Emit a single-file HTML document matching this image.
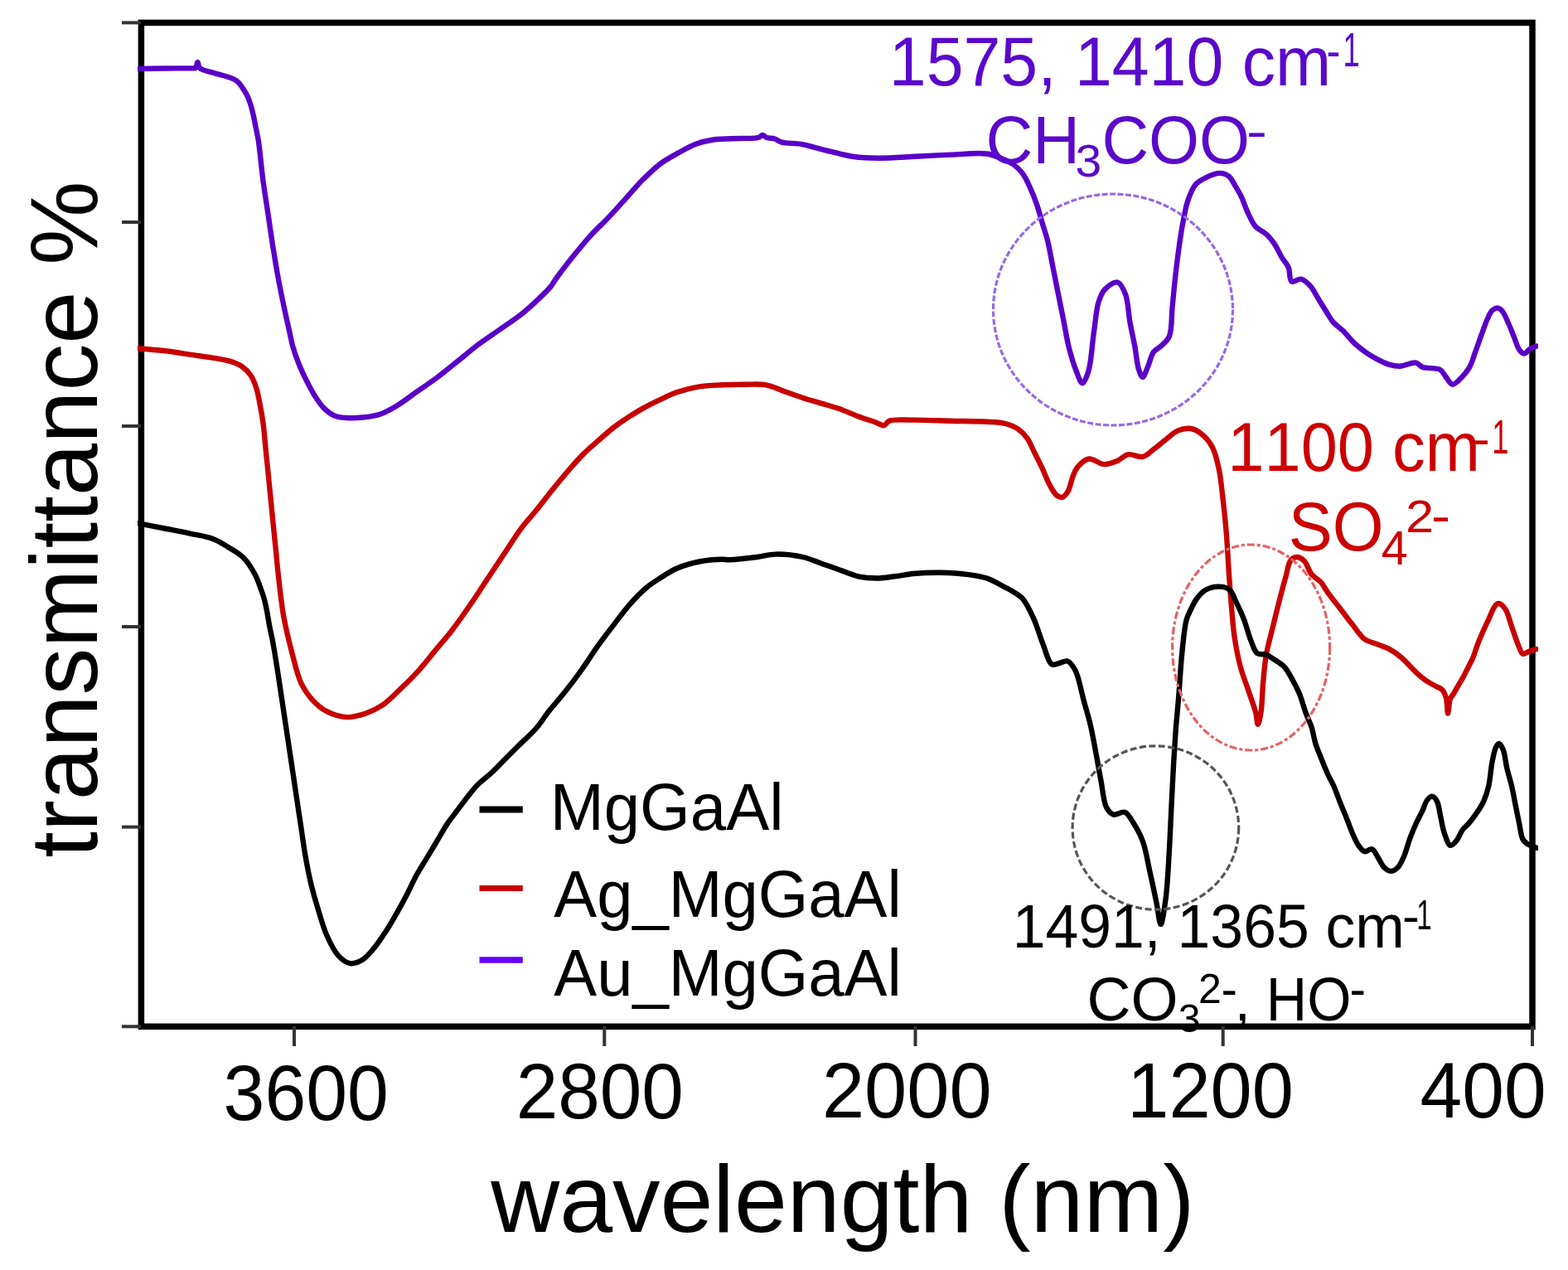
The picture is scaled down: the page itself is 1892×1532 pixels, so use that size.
<!DOCTYPE html>
<html><head><meta charset="utf-8"><title>FTIR spectra</title>
<style>html,body{margin:0;padding:0;background:#fff;overflow:hidden}svg{display:block}text{font-kerning:none}</style>
</head><body>
<svg width="1892" height="1532" viewBox="0 0 1892 1532">
<rect width="1892" height="1532" fill="#fff"/>
<defs><clipPath id="pc"><rect x="166" y="20" width="1690" height="1226"/></clipPath></defs>
<rect x="170.4" y="27.4" width="1678.6" height="1210.9" fill="none" stroke="#000" stroke-width="7.5"/>
<g stroke="#333" stroke-width="4">
<line x1="147" y1="27.4" x2="170" y2="27.4"/>
<line x1="147" y1="268" x2="170" y2="268"/>
<line x1="147" y1="514" x2="170" y2="514"/>
<line x1="147" y1="756" x2="170" y2="756"/>
<line x1="147" y1="997.6" x2="170" y2="997.6"/>
<line x1="147" y1="1238.3" x2="170" y2="1238.3"/>
<line x1="355" y1="1238" x2="355" y2="1262"/>
<line x1="729.3" y1="1238" x2="729.3" y2="1262"/>
<line x1="1104.5" y1="1238" x2="1104.5" y2="1262"/>
<line x1="1475.7" y1="1238" x2="1475.7" y2="1262"/>
<line x1="1849" y1="1238" x2="1849" y2="1262"/>
</g>
<g clip-path="url(#pc)" fill="none" stroke-width="6.4" stroke-linejoin="round" stroke-linecap="round">
<path d="M167.0,83.0 C178.3,82.8 189.8,82.6 201.0,82.5 C211.9,82.4 228.6,82.4 233.4,82.2 C234.8,82.1 235.3,82.6 236.0,82.0 C237.2,81.1 237.7,75.0 238.5,75.0 C239.3,75.0 239.1,80.1 241.0,82.0 C244.0,85.0 252.2,86.2 258.0,88.0 C263.8,89.8 270.7,91.1 275.7,93.0 C279.6,94.4 282.9,95.5 285.8,97.7 C288.7,99.9 290.8,103.3 292.9,106.3 C295.0,109.3 296.8,112.4 298.4,115.7 C300.0,119.0 301.2,122.4 302.3,125.9 C303.5,129.6 304.4,133.4 305.4,137.6 C306.5,142.4 307.5,148.1 308.6,153.3 C309.6,158.5 310.6,162.3 311.7,169.0 C313.6,181.0 315.5,203.4 317.6,219.1 C319.5,233.0 321.5,245.2 323.5,258.3 C325.4,271.3 327.2,284.4 329.3,297.4 C331.4,310.4 333.4,323.2 335.9,336.5 C338.5,350.5 342.2,368.0 344.7,379.6 C346.4,387.4 347.6,392.7 349.1,399.2 C350.6,405.7 351.7,412.2 353.5,418.7 C355.4,425.3 357.7,431.8 360.3,438.3 C362.9,444.9 366.0,451.4 369.2,457.9 C372.5,464.5 376.1,471.6 379.9,477.5 C383.3,482.9 386.5,488.0 390.7,492.1 C394.7,496.1 399.6,499.9 404.4,501.9 C408.8,503.7 413.1,503.7 418.1,504.0 C424.0,504.4 431.1,504.2 437.7,503.5 C444.6,502.8 451.8,501.9 458.5,499.7 C465.4,497.4 471.6,493.8 478.4,489.7 C486.4,484.9 494.9,478.2 503.2,472.4 C511.5,466.6 519.8,461.1 528.0,455.0 C536.4,448.7 544.5,441.8 552.8,435.2 C561.1,428.6 569.2,421.6 577.6,415.3 C585.8,409.2 594.1,403.8 602.4,398.0 C610.7,392.2 619.5,386.6 627.2,380.6 C634.3,375.0 640.7,369.2 647.0,363.3 C653.1,357.6 660.2,351.0 664.4,345.9 C667.2,342.5 667.8,340.5 670.6,336.6 C675.5,329.8 684.6,318.0 691.7,309.1 C698.7,300.4 705.7,291.7 712.9,283.8 C719.8,276.3 727.0,269.9 734.0,262.6 C741.1,255.1 748.1,247.1 755.1,239.4 C762.2,231.6 769.1,223.3 776.3,216.1 C783.2,209.3 790.1,202.5 797.4,197.1 C804.2,192.1 811.5,188.3 818.6,184.4 C825.6,180.6 832.5,176.5 839.7,173.8 C846.6,171.2 853.0,169.7 860.8,168.5 C870.3,167.1 882.9,167.4 892.6,167.0 C900.7,166.6 910.3,167.4 915.0,166.0 C917.4,165.3 918.3,163.0 920.0,163.0 C921.7,163.0 923.0,165.3 925.0,166.0 C927.6,167.0 931.7,166.5 934.8,167.5 C937.8,168.4 939.6,170.7 943.3,171.7 C949.0,173.3 959.1,172.5 966.6,173.8 C973.9,175.0 980.7,177.3 987.7,179.1 C994.7,180.9 1001.7,182.7 1008.8,184.4 C1015.8,186.0 1022.3,187.9 1030.0,189.0 C1039.1,190.2 1049.0,190.6 1060.0,190.7 C1073.4,190.8 1089.9,189.5 1104.6,188.8 C1119.1,188.1 1133.3,187.2 1147.7,186.6 C1162.1,186.1 1179.8,183.9 1190.8,185.5 C1197.9,186.5 1202.5,188.8 1208.0,191.0 C1213.3,193.1 1218.6,195.4 1223.0,198.5 C1227.2,201.5 1230.7,205.0 1233.8,209.2 C1237.3,213.8 1239.8,219.5 1242.5,225.4 C1245.6,232.0 1248.6,239.7 1251.1,246.9 C1253.6,254.0 1255.3,261.3 1257.5,268.5 C1259.6,275.7 1262.0,282.1 1264.0,290.0 C1266.4,299.6 1268.3,311.5 1270.5,322.3 C1272.6,333.1 1274.8,343.8 1276.9,354.6 C1279.1,365.4 1281.2,376.1 1283.4,386.9 C1285.5,397.7 1287.2,408.9 1289.8,419.2 C1292.3,428.9 1295.4,439.4 1298.5,447.2 C1300.9,453.1 1303.5,462.3 1306.0,462.3 C1308.5,462.3 1311.5,453.8 1313.5,447.2 C1316.9,436.0 1317.8,414.6 1320.0,400.0 C1321.9,387.2 1322.7,373.3 1325.7,364.1 C1327.7,357.8 1329.5,352.9 1333.2,349.0 C1337.0,345.0 1344.3,339.5 1348.4,340.5 C1352.5,341.5 1355.5,348.6 1357.9,354.7 C1361.3,363.3 1361.5,378.0 1363.5,388.8 C1365.3,398.7 1367.4,407.6 1369.2,417.1 C1370.9,426.5 1371.8,438.7 1374.0,445.5 C1375.3,449.6 1377.0,455.0 1378.7,455.0 C1380.7,455.0 1383.2,446.5 1385.3,441.7 C1387.6,436.4 1388.8,429.0 1391.9,424.7 C1394.5,421.2 1398.4,420.1 1401.4,417.1 C1404.7,413.8 1408.7,411.1 1410.9,405.8 C1414.4,397.5 1413.4,381.9 1414.6,369.8 C1415.9,357.4 1417.0,344.6 1418.4,332.0 C1419.8,319.4 1421.5,305.8 1423.2,294.1 C1424.7,283.9 1426.1,274.8 1427.9,265.7 C1429.6,257.2 1430.9,248.6 1433.6,241.1 C1436.1,234.2 1438.8,226.9 1443.0,222.2 C1446.6,218.2 1451.6,215.9 1456.3,213.7 C1461.0,211.5 1466.7,208.9 1471.4,208.9 C1475.5,208.9 1479.7,210.3 1482.8,212.7 C1486.1,215.2 1487.9,220.1 1490.4,224.1 C1493.0,228.3 1495.5,232.4 1497.9,237.3 C1500.6,243.0 1502.6,250.1 1505.5,256.2 C1508.3,262.1 1511.0,268.8 1515.0,273.3 C1518.7,277.4 1524.4,279.1 1528.2,282.7 C1531.9,286.1 1534.7,289.8 1537.7,294.1 C1541.1,299.1 1544.0,306.1 1547.1,311.1 C1549.7,315.3 1552.8,318.1 1554.7,322.5 C1556.8,327.4 1555.4,337.6 1558.5,339.5 C1561.1,341.1 1566.3,336.0 1569.9,336.7 C1573.9,337.5 1577.9,341.6 1581.2,345.2 C1584.9,349.3 1587.5,355.3 1590.7,360.4 C1593.8,365.4 1597.1,370.7 1600.1,375.5 C1602.9,379.9 1604.9,384.2 1608.2,388.1 C1611.7,392.2 1616.5,395.0 1620.6,399.1 C1625.2,403.6 1629.6,409.7 1634.4,414.2 C1638.8,418.3 1643.4,421.9 1648.1,425.2 C1652.6,428.3 1657.2,431.0 1661.8,433.4 C1666.3,435.8 1670.9,438.2 1675.6,439.6 C1680.1,440.9 1684.4,441.8 1689.3,441.7 C1695.2,441.5 1703.7,436.6 1708.6,437.6 C1712.1,438.3 1713.3,441.8 1716.8,443.1 C1721.9,445.0 1732.7,443.2 1737.4,445.8 C1740.8,447.7 1741.9,451.2 1744.3,454.1 C1746.9,457.2 1749.5,463.3 1752.5,463.7 C1755.4,464.1 1759.1,459.8 1762.2,456.8 C1766.0,453.2 1770.2,448.2 1773.1,443.1 C1776.2,437.7 1777.6,431.6 1780.0,425.2 C1782.7,417.9 1785.6,409.1 1788.3,401.8 C1790.6,395.4 1792.8,388.9 1795.1,384.0 C1796.9,380.2 1798.2,376.5 1800.6,374.4 C1802.5,372.7 1805.4,371.3 1807.5,371.6 C1809.5,371.9 1811.3,373.7 1813.0,375.7 C1815.6,378.8 1817.7,384.7 1819.9,389.5 C1822.3,394.7 1824.4,400.5 1826.7,406.0 C1829.0,411.5 1830.9,419.0 1833.6,422.5 C1835.3,424.6 1837.2,426.6 1839.1,426.6 C1841.3,426.6 1843.5,422.6 1846.0,421.1 C1848.5,419.6 1851.3,418.7 1854.0,417.5" stroke="#5a00c8"/>
<path d="M167.0,420.2 C178.4,421.3 190.1,422.1 201.3,423.5 C212.0,424.8 222.2,426.6 232.6,428.2 C243.1,429.8 255.0,431.1 264.0,432.9 C270.9,434.3 277.1,435.4 282.2,437.3 C286.2,438.8 289.1,440.1 292.3,442.4 C295.9,445.0 299.6,448.4 302.4,452.5 C305.5,457.0 307.7,463.0 309.5,468.7 C311.4,474.5 312.2,480.5 313.5,487.0 C315.0,494.5 316.5,502.7 317.6,511.3 C318.9,520.8 319.6,531.5 320.6,541.6 C321.6,551.7 322.7,561.9 323.7,572.0 C324.7,582.1 325.7,592.3 326.7,602.4 C327.7,612.5 328.7,622.7 329.7,632.8 C330.7,642.9 331.8,653.0 332.8,663.1 C333.8,673.2 334.7,683.7 335.8,693.5 C336.8,702.7 337.8,711.6 338.9,720.2 C340.0,728.3 340.6,734.8 342.3,743.9 C344.7,756.6 349.0,774.9 352.7,788.9 C356.0,801.2 358.5,813.7 363.1,823.5 C366.9,831.6 371.6,838.4 377.0,844.3 C382.1,849.9 387.7,854.8 394.3,858.2 C401.4,861.9 410.5,864.7 418.5,865.1 C426.1,865.4 433.7,863.2 440.9,860.8 C448.2,858.3 455.1,854.9 461.8,850.4 C469.1,845.4 475.8,838.1 482.7,831.6 C489.8,824.9 496.8,818.2 503.6,810.7 C510.7,802.9 517.5,794.0 524.4,785.6 C531.4,777.2 538.5,769.3 545.3,760.5 C552.4,751.3 559.3,741.3 566.2,731.3 C573.3,721.1 580.1,710.4 587.1,700.0 C594.1,689.5 601.0,679.1 608.0,668.6 C615.0,658.2 621.9,646.6 628.9,637.3 C635.0,629.1 641.1,623.0 647.3,615.3 C653.9,607.1 660.8,597.9 667.4,589.7 C673.6,582.1 679.5,574.9 685.7,567.8 C691.7,560.9 697.7,553.8 704.0,547.6 C709.9,541.7 716.2,536.6 722.3,531.2 C728.3,525.9 734.3,520.4 740.5,515.6 C746.5,511.0 752.6,506.9 758.8,502.9 C764.8,499.0 770.9,495.3 777.1,491.9 C783.1,488.6 789.1,485.7 795.4,482.7 C802.1,479.5 808.8,475.9 816.4,473.3 C824.8,470.4 834.6,467.9 843.8,466.4 C852.9,464.9 861.9,464.8 871.2,464.3 C880.7,463.8 890.8,463.7 900.0,463.7 C908.5,463.7 916.6,462.9 924.4,464.4 C932.1,465.8 939.2,469.6 946.6,472.2 C954.0,474.8 961.4,477.6 968.8,480.0 C976.2,482.4 983.6,484.4 991.0,486.6 C998.4,488.8 1005.9,490.7 1013.2,493.3 C1020.7,495.9 1028.0,499.4 1035.4,502.2 C1042.8,505.0 1051.9,507.8 1057.6,509.9 C1061.2,511.2 1063.9,513.7 1066.5,513.3 C1069.0,512.9 1069.8,509.0 1073.1,507.7 C1079.1,505.4 1091.3,506.7 1102.0,506.6 C1115.2,506.5 1131.6,507.3 1146.4,507.7 C1161.2,508.1 1178.6,508.0 1190.8,508.8 C1199.5,509.3 1206.4,509.3 1213.0,511.0 C1218.8,512.5 1224.0,514.6 1228.5,517.7 C1232.8,520.6 1236.4,524.4 1239.6,528.8 C1243.2,533.8 1245.5,540.6 1248.5,546.5 C1251.5,552.4 1254.5,558.2 1257.4,564.3 C1260.4,570.7 1263.0,578.4 1266.2,584.3 C1269.0,589.3 1271.9,595.2 1275.1,597.6 C1277.2,599.2 1279.7,600.3 1281.8,599.8 C1284.2,599.2 1286.5,596.3 1288.4,593.2 C1291.3,588.6 1292.7,578.7 1295.1,573.2 C1296.9,569.0 1298.1,565.8 1300.9,562.7 C1304.1,559.1 1309.1,554.2 1314.0,553.5 C1319.4,552.8 1326.3,559.8 1332.2,560.1 C1337.6,560.4 1343.0,558.1 1347.9,556.1 C1352.6,554.1 1356.1,549.3 1361.0,548.3 C1366.4,547.2 1373.8,552.2 1379.2,550.9 C1384.2,549.7 1388.0,545.0 1392.3,541.8 C1396.7,538.5 1400.8,534.9 1405.4,531.3 C1410.3,527.5 1415.5,522.0 1421.0,519.6 C1426.0,517.5 1431.8,516.3 1436.7,517.0 C1441.4,517.7 1445.8,520.3 1449.8,523.5 C1454.6,527.3 1459.4,532.9 1462.8,539.2 C1466.7,546.5 1468.6,555.6 1470.7,565.3 C1473.2,577.0 1474.4,591.4 1475.9,604.5 C1477.4,617.5 1478.7,629.7 1479.8,643.6 C1481.1,659.5 1482.0,679.2 1483.1,694.8 C1484.0,708.0 1484.8,719.2 1485.9,731.4 C1487.0,743.6 1487.7,755.8 1489.5,767.9 C1491.3,780.1 1493.8,793.3 1496.8,804.5 C1499.4,814.4 1502.9,822.8 1506.0,831.9 C1509.0,841.0 1513.1,851.5 1515.1,859.3 C1516.6,864.9 1516.8,873.9 1517.9,873.9 C1519.0,873.9 1520.5,865.3 1521.5,859.3 C1523.0,849.9 1523.1,834.6 1524.2,822.7 C1525.2,811.4 1526.0,800.5 1527.9,789.8 C1529.7,779.3 1532.6,769.6 1535.2,758.8 C1538.0,747.1 1541.4,733.5 1544.3,722.2 C1546.8,712.4 1549.4,703.0 1551.7,694.8 C1553.6,688.1 1554.2,680.3 1557.1,676.5 C1559.0,674.0 1561.8,672.1 1564.4,672.0 C1567.3,671.9 1570.9,673.9 1573.6,676.5 C1577.3,680.0 1579.0,688.6 1582.7,693.0 C1585.9,696.8 1590.5,698.5 1593.7,702.1 C1597.0,705.8 1598.9,710.2 1602.2,714.8 C1606.4,720.6 1612.1,727.6 1617.0,734.0 C1621.9,740.4 1626.8,747.1 1631.8,753.3 C1636.7,759.4 1641.1,767.0 1646.6,771.0 C1651.2,774.3 1656.5,775.0 1661.4,777.0 C1666.3,779.0 1671.4,780.3 1676.2,782.9 C1681.3,785.6 1686.0,789.0 1691.0,793.2 C1697.2,798.4 1704.3,807.2 1710.0,812.3 C1714.3,816.1 1717.7,819.0 1721.7,821.7 C1725.5,824.3 1730.1,826.3 1733.5,828.2 C1736.1,829.7 1738.6,830.2 1740.5,832.3 C1742.7,834.8 1744.1,838.8 1745.2,842.9 C1746.5,847.9 1746.2,860.5 1747.0,860.5 C1747.8,860.5 1748.3,847.3 1750.0,842.9 C1751.2,839.9 1753.1,838.4 1754.6,835.8 C1756.3,832.9 1758.1,829.6 1759.9,826.4 C1761.8,823.1 1763.9,819.9 1765.8,816.4 C1767.8,812.7 1769.7,808.6 1771.7,804.7 C1773.6,800.8 1775.6,797.4 1777.5,793.0 C1779.8,787.5 1781.5,780.8 1784.2,774.0 C1787.5,765.8 1792.3,755.3 1796.1,747.4 C1799.2,740.8 1802.0,732.2 1805.0,729.6 C1806.5,728.3 1807.9,727.7 1809.4,728.1 C1811.7,728.6 1814.6,732.1 1816.8,735.5 C1819.9,740.4 1821.7,749.3 1824.2,756.2 C1826.7,763.1 1829.1,771.1 1831.6,777.0 C1833.5,781.6 1834.9,787.8 1837.5,788.8 C1839.6,789.6 1842.3,786.7 1844.9,785.8 C1847.8,784.8 1851.0,783.9 1854.0,783.0" stroke="#c80000"/>
<path d="M167.0,631.3 C178.4,633.5 190.1,635.8 201.3,638.0 C212.0,640.1 222.8,642.1 232.6,644.3 C241.4,646.2 249.9,647.3 257.4,650.2 C264.2,652.8 269.7,656.5 275.7,660.2 C281.9,664.1 288.7,667.7 294.0,673.0 C299.5,678.6 304.1,686.3 307.7,693.1 C311.0,699.3 313.3,706.5 315.3,712.0 C316.8,716.2 317.9,719.1 319.0,723.3 C320.4,728.3 321.5,734.5 322.6,740.0 C323.6,745.3 324.3,750.5 325.3,755.7 C326.3,760.9 327.6,766.1 328.6,771.3 C329.6,776.5 330.3,780.7 331.4,787.0 C333.0,796.6 335.3,811.5 337.1,823.5 C338.9,835.2 340.6,846.6 342.3,858.2 C344.0,869.7 345.8,881.3 347.5,892.8 C349.2,904.3 351.0,915.9 352.7,927.4 C354.4,939.0 356.2,950.5 357.9,962.1 C359.6,973.6 361.4,985.2 363.1,996.7 C364.8,1008.2 366.3,1019.8 368.3,1031.3 C370.3,1042.9 372.5,1054.8 375.2,1066.0 C377.8,1076.7 380.7,1086.8 383.9,1097.1 C387.1,1107.5 390.0,1118.7 394.3,1128.3 C398.2,1137.1 402.6,1146.8 408.1,1152.6 C412.4,1157.2 417.6,1161.4 422.6,1162.2 C427.2,1162.9 432.5,1160.7 437.0,1158.1 C442.2,1155.0 446.8,1149.1 451.4,1143.7 C456.5,1137.7 461.3,1130.1 465.8,1123.2 C470.2,1116.4 474.1,1109.7 478.1,1102.6 C482.3,1095.3 486.5,1087.7 490.5,1080.0 C494.7,1072.0 498.5,1063.1 502.8,1055.3 C506.8,1048.1 511.0,1041.6 515.1,1034.8 C519.2,1027.9 523.4,1021.1 527.5,1014.2 C531.6,1007.3 535.5,1000.0 539.8,993.6 C543.8,987.7 548.0,982.7 552.1,977.2 C556.2,971.7 560.3,966.0 564.5,960.7 C568.5,955.7 572.2,950.9 576.8,946.3 C581.7,941.3 587.9,937.0 593.3,932.0 C598.9,926.8 604.2,921.0 609.7,915.5 C615.2,910.0 620.4,904.9 626.2,899.1 C632.7,892.6 640.8,885.6 647.0,878.5 C652.9,871.8 657.0,864.7 662.6,857.6 C668.7,849.9 675.8,842.2 682.2,834.1 C688.8,825.7 695.4,817.0 701.8,808.0 C708.4,798.7 714.8,788.5 721.4,779.2 C727.8,770.2 734.4,761.6 741.0,753.1 C747.5,744.7 753.8,735.9 760.6,728.3 C766.9,721.2 773.7,714.2 780.2,708.7 C785.8,704.0 791.2,700.8 797.1,697.0 C803.2,693.1 809.2,688.8 816.4,685.7 C824.5,682.2 834.6,679.3 843.8,677.5 C852.8,675.7 864.6,674.9 871.2,674.8 C874.9,674.7 876.1,675.4 880.0,675.3 C887.5,675.1 903.3,673.3 913.3,672.0 C921.5,671.0 927.3,668.8 935.5,668.6 C945.5,668.3 958.9,669.8 968.8,672.0 C977.1,673.8 983.6,677.1 991.0,679.7 C998.4,682.3 1005.8,684.9 1013.2,687.5 C1020.6,690.1 1027.9,693.6 1035.4,695.3 C1042.7,696.9 1050.2,697.5 1057.6,697.5 C1065.0,697.5 1072.4,696.2 1079.8,695.3 C1087.2,694.4 1093.8,692.8 1102.0,692.0 C1112.0,691.1 1124.2,690.6 1135.3,690.8 C1146.4,691.0 1158.7,691.8 1168.6,693.1 C1176.8,694.2 1183.6,695.0 1190.8,697.5 C1198.4,700.1 1207.7,705.9 1213.0,708.6 C1216.0,710.1 1217.3,710.7 1220.0,712.3 C1223.9,714.7 1229.6,717.3 1233.7,721.9 C1239.0,727.8 1243.4,737.8 1247.4,746.6 C1251.7,756.0 1254.6,767.3 1258.4,776.8 C1261.9,785.5 1264.9,799.1 1269.4,801.5 C1272.0,802.9 1275.0,800.6 1278.0,800.0 C1281.2,799.3 1285.1,796.6 1288.0,797.5 C1291.1,798.4 1294.0,802.9 1296.0,806.0 C1297.9,808.8 1298.6,811.0 1300.0,815.0 C1302.5,822.1 1305.1,835.3 1307.8,845.4 C1310.5,855.5 1313.6,865.1 1316.0,875.6 C1318.6,886.9 1320.8,899.8 1322.9,911.2 C1324.9,921.7 1326.4,931.1 1328.4,941.4 C1330.5,952.1 1331.4,967.3 1335.2,974.3 C1337.4,978.4 1340.1,981.6 1343.5,982.6 C1347.3,983.7 1353.3,978.4 1357.2,979.8 C1361.6,981.4 1364.7,988.3 1368.1,993.6 C1372.1,999.9 1376.1,1007.1 1379.1,1015.5 C1382.8,1025.8 1384.7,1039.1 1387.4,1051.2 C1390.2,1063.8 1393.2,1078.1 1395.6,1089.6 C1397.5,1098.9 1398.9,1115.0 1400.6,1115.0 C1402.5,1115.0 1405.0,1095.9 1406.6,1084.1 C1408.7,1068.5 1409.6,1047.5 1410.7,1029.2 C1411.8,1010.9 1412.5,992.6 1413.4,974.3 C1414.3,956.0 1415.2,936.5 1416.2,919.5 C1417.1,904.8 1417.9,891.8 1418.9,878.3 C1419.9,865.2 1421.2,853.4 1422.3,839.5 C1423.6,823.4 1424.6,803.4 1426.3,787.3 C1427.8,773.3 1429.0,757.3 1431.5,748.1 C1432.9,742.8 1434.5,740.1 1436.5,736.0 C1438.6,731.5 1440.9,726.3 1444.0,722.2 C1447.1,718.1 1450.6,713.9 1455.0,711.5 C1459.5,709.0 1465.7,707.5 1470.7,707.6 C1475.3,707.7 1480.3,708.7 1483.7,711.5 C1487.4,714.5 1488.8,720.7 1491.4,725.9 C1494.4,732.0 1497.6,738.7 1500.5,746.0 C1503.8,754.3 1506.5,765.8 1509.6,773.4 C1512.0,779.1 1513.4,785.4 1516.9,788.0 C1519.8,790.1 1524.5,788.6 1527.9,789.8 C1531.2,791.0 1533.8,793.2 1537.0,795.3 C1541.0,797.9 1546.2,800.7 1549.8,804.5 C1553.6,808.5 1556.1,813.9 1559.0,819.1 C1562.2,824.8 1565.4,830.8 1568.1,837.3 C1570.9,844.2 1572.9,852.4 1575.4,859.3 C1577.7,865.7 1580.7,871.3 1582.7,877.5 C1584.7,883.8 1585.4,890.6 1587.4,897.0 C1589.4,903.5 1592.3,909.9 1594.8,916.2 C1597.2,922.3 1599.6,928.4 1602.2,934.0 C1604.6,939.2 1607.3,943.5 1609.6,948.8 C1612.2,954.7 1614.5,961.7 1617.0,968.0 C1619.4,974.1 1622.0,979.7 1624.4,985.8 C1626.9,992.1 1629.2,999.1 1631.8,1005.0 C1634.1,1010.3 1636.4,1015.9 1639.2,1019.8 C1641.4,1022.9 1643.8,1026.5 1646.6,1027.2 C1649.3,1027.8 1652.9,1023.5 1655.5,1024.3 C1658.5,1025.3 1660.5,1031.0 1662.9,1034.6 C1665.4,1038.4 1667.4,1043.7 1670.3,1046.5 C1672.7,1048.8 1675.7,1050.9 1678.4,1050.9 C1681.1,1050.9 1684.2,1048.8 1686.6,1046.5 C1689.6,1043.5 1691.7,1038.3 1694.0,1033.2 C1696.8,1026.9 1698.8,1017.9 1701.4,1011.0 C1703.8,1004.7 1706.2,998.8 1708.8,993.2 C1711.2,988.0 1713.9,983.2 1716.2,978.4 C1718.3,973.9 1719.7,968.2 1722.1,965.1 C1723.8,962.9 1726.1,960.5 1728.0,960.6 C1730.0,960.7 1732.3,963.7 1733.9,966.6 C1736.3,971.0 1736.9,979.4 1738.4,985.8 C1739.9,992.2 1740.7,999.1 1742.8,1005.0 C1744.7,1010.4 1747.3,1019.2 1750.2,1019.8 C1752.4,1020.3 1755.4,1016.5 1757.6,1013.9 C1760.4,1010.6 1762.3,1004.2 1765.0,1000.6 C1767.3,997.6 1769.9,996.1 1772.4,993.2 C1775.3,989.8 1778.4,985.6 1781.3,981.4 C1784.4,976.8 1787.8,971.9 1790.2,966.6 C1792.7,961.1 1794.5,955.6 1796.1,948.8 C1798.1,940.3 1798.8,927.8 1800.5,919.2 C1801.8,912.5 1803.0,905.2 1805.0,901.4 C1806.1,899.3 1807.4,896.9 1808.7,897.0 C1810.3,897.1 1812.4,901.1 1813.8,904.4 C1816.0,909.7 1816.6,919.2 1818.3,926.6 C1820.0,934.0 1822.5,941.4 1824.2,948.8 C1825.9,956.2 1827.1,963.6 1828.6,971.0 C1830.1,978.4 1831.6,986.1 1833.1,993.2 C1834.5,999.8 1835.1,1008.0 1837.5,1012.4 C1839.1,1015.3 1840.9,1016.7 1843.4,1018.4 C1846.3,1020.3 1850.5,1021.3 1854.0,1022.8" stroke="#000"/>
</g>
<g fill="none" stroke-width="3.2">
<ellipse cx="1343" cy="373.5" rx="144.5" ry="139.5" stroke="#9868e4" stroke-dasharray="7 2.5"/>
<ellipse cx="1509.6" cy="781" rx="95" ry="124" stroke="#e46262" stroke-dasharray="9 3 4 3"/>
<ellipse cx="1394.4" cy="998.5" rx="100.3" ry="98.7" stroke="#555" stroke-dasharray="8 3.5"/>
</g>
<line x1="578.5" y1="976.5" x2="630.8" y2="976.5" stroke="#000" stroke-width="8"/>
<line x1="578.5" y1="1071.6" x2="630.8" y2="1071.6" stroke="#cc0000" stroke-width="7"/>
<line x1="578.5" y1="1158" x2="630.8" y2="1158" stroke="#6400ff" stroke-width="7.5"/>
<g font-family="'Liberation Sans', Arial, sans-serif" style="font-kerning:none">
<text transform="translate(269.59,1350.50) scale(0.9536,1)" font-size="94.00" fill="#000">3600</text>
<text transform="translate(622.63,1349.00) scale(0.9675,1)" font-size="94.00" fill="#000">2800</text>
<text transform="translate(991.97,1348.00) scale(0.9785,1)" font-size="94.00" fill="#000">2000</text>
<text transform="translate(1360.34,1348.00) scale(0.9587,1)" font-size="94.00" fill="#000">1200</text>
<text transform="translate(1713.61,1347.50) scale(0.9702,1)" font-size="94.00" fill="#000">400</text>
<text transform="translate(592.17,1486.00) scale(0.9991,1)" font-size="115.00" fill="#000">wavelength (nm)</text>
<text transform="translate(116.8,1034.72) rotate(-90) scale(0.9901,1)" font-size="115" fill="#000">transmittance %</text>
<text transform="translate(663.70,1000.80) scale(0.9756,1)" font-size="80.00" fill="#000">MgGaAl</text>
<text transform="translate(668.25,1105.50) scale(0.9727,1)" font-size="80.00" fill="#000">Ag_MgGaAl</text>
<text transform="translate(668.25,1201.10) scale(0.9727,1)" font-size="80.00" fill="#000">Au_MgGaAl</text>
<text transform="translate(1072.86,103.30) scale(0.9596,1)" font-size="84.00" fill="#5a08cc">1575, 1410 cm</text>
<text transform="translate(1600.44,80.59) scale(0.5079,0.5888)" font-size="100.0" fill="#5a08cc">-</text>
<text transform="translate(1620.43,80.40) scale(0.6424,1)" font-size="56.69" fill="#5a08cc">1</text>
<text transform="translate(1189.51,196.80) scale(0.9592,1)" font-size="82.00" fill="#5a08cc">CH</text>
<text transform="translate(1297.53,212.76) scale(1.0365,1)" font-size="54.94" fill="#5a08cc">3</text>
<text transform="translate(1329.42,196.50) scale(0.9564,1)" font-size="82.00" fill="#5a08cc">COO</text>
<text transform="translate(1503.81,177.64) scale(0.7619,0.5888)" font-size="100.0" fill="#5a08cc">-</text>
<text transform="translate(1481.35,567.70) scale(0.9565,1)" font-size="83.00" fill="#cc0000">1100 cm</text>
<text transform="translate(1777.27,548.64) scale(0.6144,0.5888)" font-size="100.0" fill="#cc0000">-</text>
<text transform="translate(1800.23,547.40) scale(0.6440,1)" font-size="56.54" fill="#cc0000">1</text>
<text transform="translate(1554.79,663.70) scale(0.9460,1)" font-size="84.00" fill="#cc0000">SO</text>
<text transform="translate(1666.68,680.80) scale(1.0101,1)" font-size="56.98" fill="#cc0000">4</text>
<text transform="translate(1695.91,641.60) scale(1.0948,1)" font-size="56.14" fill="#cc0000">2</text>
<text transform="translate(1726.91,641.64) scale(0.6963,0.5888)" font-size="100.0" fill="#cc0000">-</text>
<text transform="translate(1221.75,1143.40) scale(0.9665,1)" font-size="74.00" fill="#000">1491, 1365 cm</text>
<text transform="translate(1691.92,1125.14) scale(0.6267,0.5888)" font-size="100.0" fill="#000">-</text>
<text transform="translate(1709.27,1121.30) scale(0.6692,1)" font-size="49.56" fill="#000">1</text>
<text transform="translate(1311.47,1230.50) scale(0.9913,1)" font-size="74.00" fill="#000">CO</text>
<text transform="translate(1421.87,1244.90) scale(0.9814,1)" font-size="49.00" fill="#000">3</text>
<text transform="translate(1445.88,1209.70) scale(0.9928,1)" font-size="50.41" fill="#000">2</text>
<text transform="translate(1473.40,1212.94) scale(0.5857,0.5888)" font-size="100.0" fill="#000">-</text>
<text transform="translate(1489.85,1230.50) scale(0.9244,1)" font-size="74.00" fill="#000">, HO</text>
<text transform="translate(1628.40,1212.94) scale(0.5857,0.5888)" font-size="100.0" fill="#000">-</text>
</g>
</svg>
</body></html>
